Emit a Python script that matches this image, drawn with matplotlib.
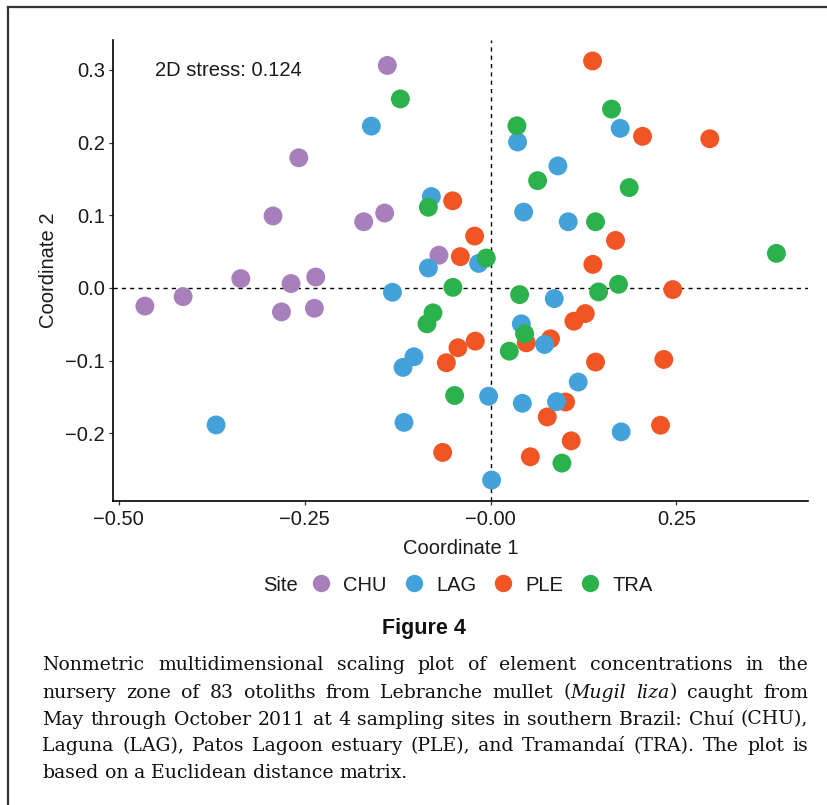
import matplotlib
matplotlib.use("Agg")
import matplotlib.pyplot as plt
from matplotlib.lines import Line2D
import numpy as np

# ---------------- data ----------------
sites = ["CHU", "LAG", "PLE", "TRA"]
site_colors = {"CHU": "#A77FBB", "LAG": "#43A2DA", "PLE": "#F05523", "TRA": "#2BB24C"}

chu_x = [-0.465, -0.4136, -0.336, -0.2926, -0.258, -0.2684, -0.2813, -0.2352, -0.237,
         -0.1707, -0.1425, -0.1389, -0.0695]
chu_y = [-0.025, -0.012, 0.0128, 0.099, 0.179, 0.006, -0.033, 0.015, -0.028,
         0.091, 0.103, 0.306, 0.045]

lag_x = [-0.3692, -0.1604, -0.0797, -0.0837, -0.0161, -0.132, 0.0363, 0.0444, 0.0413,
         -0.1031, -0.1178, -0.0027, 0.0426, -0.1165, 0.0013, 0.0856, 0.0726, 0.1178,
         0.0887, 0.1756, 0.1743, 0.0905, 0.1044]
lag_y = [-0.1885, 0.2226, 0.1257, 0.0274, 0.0337, -0.006, 0.2007, 0.1043, -0.0494,
         -0.0947, -0.1093, -0.149, -0.1587, -0.185, -0.2643, -0.0147, -0.0778, -0.1295,
         -0.1564, -0.198, 0.2195, 0.1678, 0.091]

ple_x = [-0.0511, -0.0215, -0.0407, 0.048, -0.0206, -0.0439, -0.0595, -0.0645, 0.0534,
         0.245, 0.0806, 0.112, 0.1273, 0.1411, 0.2329, 0.1008, 0.0762, 0.1084, 0.2285,
         0.1371, 0.2043, 0.2948, 0.168, 0.1375]
ple_y = [0.1198, 0.0713, 0.043, -0.0755, -0.0732, -0.0823, -0.1029, -0.2263, -0.2323,
         -0.0023, -0.07, -0.0458, -0.0353, -0.102, -0.0984, -0.157, -0.1775, -0.2104, -0.1889,
         0.3122, 0.2085, 0.2052, 0.0653, 0.0324]

tra_x = [-0.1214, -0.0837, -0.0058, -0.0507, 0.0354, 0.0632, 0.039, -0.0775, -0.0856,
         0.0457, 0.0251, -0.0484, 0.1452, 0.172, 0.0959, 0.1626, 0.1864, 0.1411, 0.3844]
tra_y = [0.26, 0.111, 0.0411, 0.0008, 0.223, 0.1476, -0.0092, -0.0343, -0.0494,
         -0.063, -0.087, -0.148, -0.0055, 0.005, -0.241, 0.246, 0.138, 0.091, 0.0475]

x_ticks = [-0.50, -0.25, 0.0, 0.25]
x_tick_labels = ["\u22120.50", "\u22120.25", "\u22120.00", "0.25"]
y_ticks = [-0.2, -0.1, 0.0, 0.1, 0.2, 0.3]
y_tick_labels = ["\u22120.2", "\u22120.1", "0.0", "0.1", "0.2", "0.3"]

stress_text = "2D stress: 0.124"
x_title = "Coordinate 1"
y_title = "Coordinate 2"
legend_title = "Site"
figure_title = "Figure 4"

# caption lines: *...* marks italic text
caption_lines = [
    "Nonmetric multidimensional scaling plot of element concentrations in the",
    "nursery zone of 83 otoliths from Lebranche mullet (*Mugil* *liza*) caught from",
    "May through October 2011 at 4 sampling sites in southern Brazil: Chuí (CHU),",
    "Laguna (LAG), Patos Lagoon estuary (PLE), and Tramandaí (TRA). The plot is",
    "based on a Euclidean distance matrix.",
]

series = {
    "CHU": (chu_x, chu_y),
    "PLE": (ple_x, ple_y),
    "LAG": (lag_x, lag_y),
    "TRA": (tra_x, tra_y),
}
draw_order = ["CHU", "PLE", "LAG", "TRA"]

# ---------------- figure ----------------
W, H = 828, 805
fig = plt.figure(figsize=(W / 100, H / 100), dpi=100)
fig.patch.set_facecolor("white")

def fx(px):
    return px / W

def fy(py):
    return 1 - py / H

left, right, top, bottom = 113.3, 808, 40, 501
ax = fig.add_axes([fx(left), fy(bottom), fx(right) - fx(left), fy(top) - fy(bottom)])

sans = ["Liberation Sans", "DejaVu Sans"]
fs = 14.5

for s in draw_order:
    xs, ys = series[s]
    ax.scatter(xs, ys, s=185, color=site_colors[s], edgecolors="none", zorder=3)

# ggplot-like 5% expansion
all_x = np.concatenate([np.array(series[s][0]) for s in sites])
all_y = np.concatenate([np.array(series[s][1]) for s in sites])
rx = all_x.max() - all_x.min()
ry = all_y.max() - all_y.min()
ax.set_xlim(all_x.min() - 0.05 * rx, all_x.max() + 0.05 * rx)
ax.set_ylim(all_y.min() - 0.05 * ry, all_y.max() + 0.05 * ry)

ax.axhline(0, color="black", lw=1.0, linestyle=(0, (3, 3)), zorder=1)
ax.axvline(0, color="black", lw=1.0, linestyle=(0, (3, 3)), zorder=1)

for sp in ["top", "right"]:
    ax.spines[sp].set_visible(False)
for sp in ["left", "bottom"]:
    ax.spines[sp].set_linewidth(1.2)
    ax.spines[sp].set_color("black")

ax.set_xticks(x_ticks)
ax.set_xticklabels(x_tick_labels, fontfamily=sans, fontsize=fs, color="#1a1a1a")
ax.set_yticks(y_ticks)
ax.set_yticklabels(y_tick_labels, fontfamily=sans, fontsize=fs, color="#1a1a1a")
ax.tick_params(axis="both", direction="out", length=3.0, width=0.9, color="#333333")
ax.tick_params(axis="x", pad=3.5)
ax.tick_params(axis="y", pad=3.0)

ax.set_xlabel(x_title, fontfamily=sans, fontsize=fs, color="#1a1a1a")
ax.set_ylabel(y_title, fontfamily=sans, fontsize=fs, color="#1a1a1a")
ax.xaxis.set_label_coords(0.5, (501 - 549) / (bottom - top), transform=ax.transAxes)
ax.xaxis.label.set_va("center")
ax.yaxis.set_label_coords((48 - left) / (right - left), 0.5, transform=ax.transAxes)
ax.yaxis.label.set_va("center")

ax.text((155 - left) / (right - left), (bottom - 70) / (bottom - top), stress_text,
        transform=ax.transAxes, ha="left", va="center", fontfamily=sans, fontsize=fs,
        color="#1a1a1a")

# ---------------- legend ----------------
handles = [Line2D([], [], marker="o", linestyle="none", markersize=12.5,
                  markerfacecolor=site_colors[s], markeredgecolor="none") for s in sites]
leg = fig.legend(handles, sites, ncol=4, loc="center left",
                 bbox_to_anchor=(fx(311), fy(585)), frameon=False,
                 prop={"family": sans, "size": fs}, handlelength=1.0,
                 handletextpad=0.6, columnspacing=0.85, borderpad=0, borderaxespad=0)
for t in leg.get_texts():
    t.set_color("#1a1a1a")
fig.text(fx(298), fy(585), legend_title, ha="right", va="center", fontfamily=sans,
         fontsize=fs, color="#1a1a1a")

# ---------------- Figure 4 title ----------------
fig.text(fx(424), fy(628), figure_title, ha="center", va="center",
         fontfamily=sans, fontsize=15.5, fontweight="bold", color="#111111")

# ---------------- caption (justified) ----------------
serif = ["DejaVu Serif", "Liberation Serif"]
cap_left, cap_right = 42.5, 808
line_ys = [663, 690.5, 717.5, 744, 770.5]
renderer = fig.canvas.get_renderer()

def measure(txt, italic, size):
    t = fig.text(0, 0, txt, fontfamily=serif, fontsize=size,
                 fontstyle="italic" if italic else "normal")
    w = t.get_window_extent(renderer).width
    t.remove()
    return w

def parse_word(word):
    pieces = []
    parts = word.split("*")
    for i, p in enumerate(parts):
        if p:
            pieces.append((p, i % 2 == 1))
    return pieces

def fix_italics(line):
    # make '*' toggling work per word: "(*Mugil*" and "*liza*)"
    return [parse_word(w) for w in line.split(" ")]

parsed = [fix_italics(l) for l in caption_lines]

cap_fs = 13.8
for _ in range(3):
    sp = measure("a a", False, cap_fs) - measure("aa", False, cap_fs)
    widest = 0
    for words in parsed[:-1]:
        tot = sum(measure(p, it, cap_fs) for w in words for p, it in w) + sp * (len(words) - 1)
        widest = max(widest, tot)
    avail = cap_right - cap_left
    if widest > avail * 0.995:
        cap_fs *= avail * 0.99 / widest
    else:
        break

space_w = measure("a a", False, cap_fs) - measure("aa", False, cap_fs)

for li, (words, yy) in enumerate(zip(parsed, line_ys)):
    widths = [[measure(p, it, cap_fs) for p, it in w] for w in words]
    total = sum(sum(ws) for ws in widths)
    n_gaps = len(words) - 1
    if li < len(parsed) - 1 and n_gaps > 0:
        gap = (cap_right - cap_left - total) / n_gaps
    else:
        gap = space_w
    x = cap_left
    for w, ws in zip(words, widths):
        for (p, it), pw in zip(w, ws):
            fig.text(fx(x), fy(yy), p, ha="left", va="center_baseline",
                     fontfamily=serif, fontsize=cap_fs,
                     fontstyle="italic" if it else "normal", color="#111111")
            x += pw
        x += gap

# ---------------- outer frame ----------------
fig.add_artist(Line2D([fx(8), fx(8)], [fy(7), 0], transform=fig.transFigure,
                      color="#333333", lw=1.6))
fig.add_artist(Line2D([fx(8), 1], [fy(7), fy(7)], transform=fig.transFigure,
                      color="#333333", lw=1.6))

fig.savefig("out.png", dpi=100)
